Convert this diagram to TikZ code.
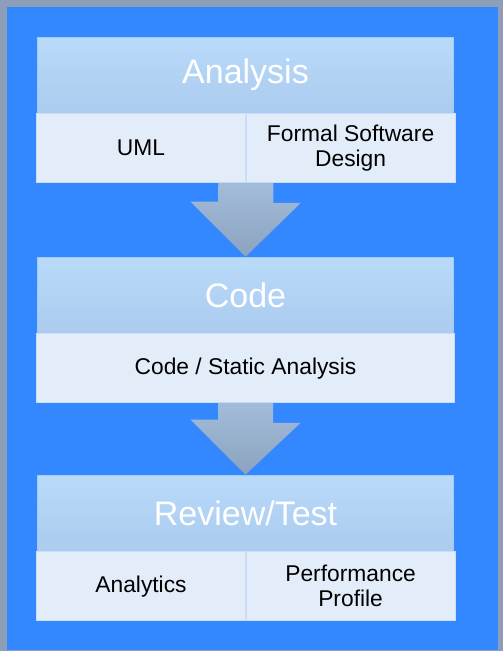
\documentclass[tikz,border=0pt]{standalone}
\usepackage{fontspec}
\setmainfont{Liberation Sans}
\usetikzlibrary{positioning}
\usetikzlibrary{calc}

\definecolor{frameblue}{HTML}{3388FF}
\definecolor{framegray}{HTML}{8C9EB8}
\definecolor{headtop}{HTML}{BADAFA}
\definecolor{headmid}{HTML}{B6D6F8}
\definecolor{headbot}{HTML}{ABCBEF}
\definecolor{subfill}{HTML}{E3EDF9}
\definecolor{arrowtop}{HTML}{A3BCD9}
\definecolor{arrowbot}{HTML}{8BA3BF}

\tikzset{
  stagehead/.style={rectangle, minimum width=416pt, minimum height=76pt, inner sep=0pt,
    top color=headtop, middle color=headmid, bottom color=headbot,
    draw=headtop!80!frameblue, line width=0.6pt,
    text=white, font=\fontsize{34}{37}\selectfont},
  stagesub/.style={rectangle, minimum height=69pt, inner sep=0pt, fill=subfill,
    draw=subfill!85!frameblue, line width=0.6pt, align=center,
    font=\fontsize{22.8}{25}\selectfont},
  flowarrow/.style={top color=arrowtop, bottom color=arrowbot, draw=none}
}

\begin{document}
\begin{tikzpicture}[x=1pt, y=-1pt]

% frame
\fill[framegray] (0,0) rectangle (503,651);
\fill[frameblue] (7,7) rectangle (498,650);
\useasboundingbox (0,0) rectangle (503,651);

% stages
\node[stagehead] (analysis) at (245.5,75) {Analysis};
\node[stagesub, minimum width=209pt, below right=0pt and -1pt of analysis.south west, anchor=north west] (uml) {UML};
\node[stagesub, minimum width=209pt, right=0pt of uml] (formal) {Formal Software\\Design};

\node[stagehead] (code) at (245.5,295) {Code};
\node[stagesub, minimum width=418pt, below=0pt of code] (static) {Code / Static Analysis};

\node[stagehead] (review) at (245.5,513) {Review/Test};
\node[stagesub, minimum width=209pt, below right=0pt and -1pt of review.south west, anchor=north west] (analytics) {Analytics};
\node[stagesub, minimum width=209pt, right=0pt of analytics] (perf) {Performance\\Profile};

% arrows between stages
\shade[flowarrow] ($(uml.south east)+(-27.5,0)$) -- ++(55,0) -- ++(0,20) -- ++(27.5,0)
  -- (code.north) -- ++(-55,-55) -- ++(27.5,0) -- cycle;
\shade[flowarrow] ($(static.south)+(-27.5,0)$) -- ++(55,0) -- ++(0,20) -- ++(27.5,0)
  -- (review.north) -- ++(-55,-55) -- ++(27.5,0) -- cycle;

\end{tikzpicture}
\end{document}
